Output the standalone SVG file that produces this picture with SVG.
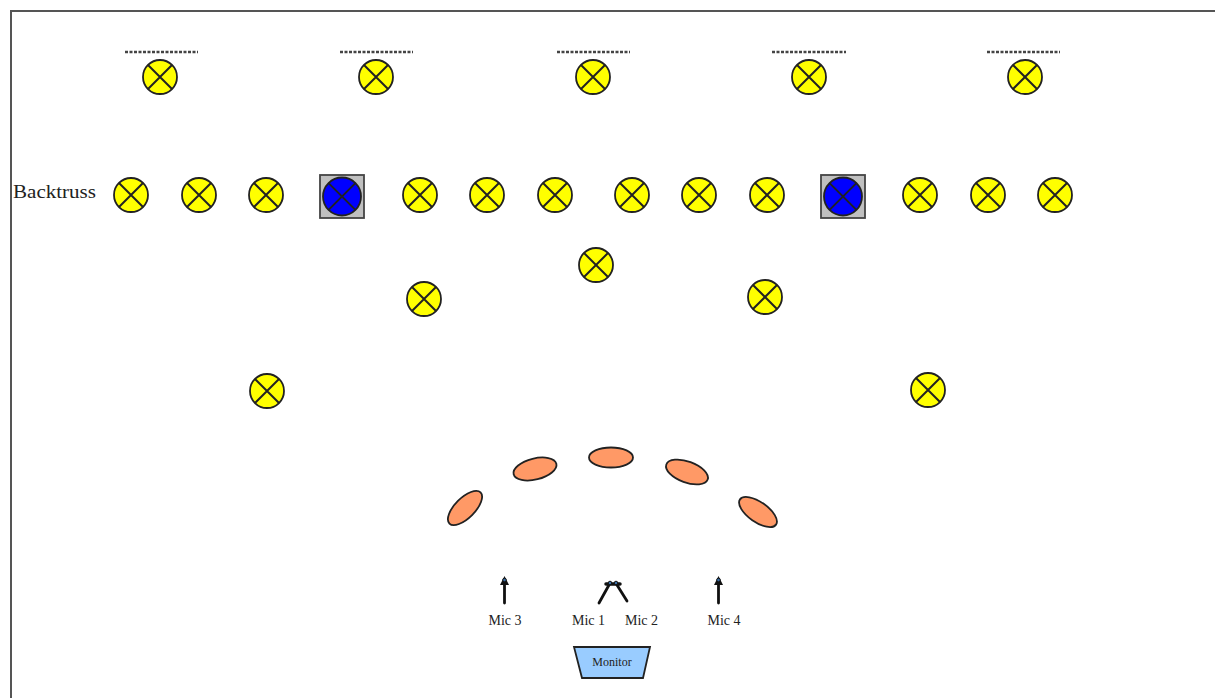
<svg xmlns="http://www.w3.org/2000/svg" xmlns:xlink="http://www.w3.org/1999/xlink" width="1215" height="698" viewBox="0 0 1215 698">
<style>
.frame{fill:none;stroke:#555;stroke-width:2}
.lamp{fill:#ffff00;stroke:#222;stroke-width:1.8}
.x{stroke:#222;stroke-width:2}
.box{fill:#c0c0c0;stroke:#444;stroke-width:1.8}
.blue{fill:#0000ff;stroke:#222;stroke-width:1.8}
.dash{stroke:#444;stroke-width:2.5;stroke-dasharray:3 1.5}
.riser{fill:#ff9966;stroke:#222;stroke-width:1.8}
.stand{stroke:#111;stroke-width:2.8;fill:none;stroke-linecap:round}
.head{fill:#3a6ea5;stroke:#111;stroke-width:1}
.lbl{font-family:"Liberation Serif","Times New Roman",serif;fill:#222}
.mon{fill:#99ccff;stroke:#222;stroke-width:1.8}
</style>
<defs>
<g id="lamp">
<circle class="lamp" cx="0" cy="0" r="17"/>
<path class="x" d="M-12,-12L12,12M12,-12L-12,12"/>
</g>
<g id="bluefix">
<rect class="box" x="-22" y="-21.5" width="44" height="43"/>
<circle class="blue" cx="0" cy="0" r="19"/>
<path class="x" d="M-13.4,-13.4L13.4,13.4M13.4,-13.4L-13.4,13.4"/>
</g>
</defs>
<rect width="1215" height="698" fill="#fff"/>
<path class="frame" d="M11,698V11H1215"/>
<g id="front-truss">
<line class="dash" x1="125" y1="52" x2="198" y2="52"/>
<line class="dash" x1="340" y1="52" x2="413" y2="52"/>
<line class="dash" x1="557" y1="52" x2="630" y2="52"/>
<line class="dash" x1="772" y1="52" x2="846" y2="52"/>
<line class="dash" x1="987" y1="52" x2="1060" y2="52"/>
<use id="f1" xlink:href="#lamp" x="160" y="77"/>
<use id="f2" xlink:href="#lamp" x="376" y="77"/>
<use id="f3" xlink:href="#lamp" x="593" y="77"/>
<use id="f4" xlink:href="#lamp" x="809" y="77"/>
<use id="f5" xlink:href="#lamp" x="1025" y="77"/>
</g>
<g id="backtruss">
<text class="lbl" x="13" y="198" font-size="19" textLength="83" lengthAdjust="spacingAndGlyphs">Backtruss</text>
<use id="b1" xlink:href="#lamp" x="131" y="195"/>
<use id="b2" xlink:href="#lamp" x="199" y="195"/>
<use id="b3" xlink:href="#lamp" x="266" y="195"/>
<use id="b4" xlink:href="#bluefix" x="342" y="196.5"/>
<use id="b5" xlink:href="#lamp" x="420" y="195"/>
<use id="b6" xlink:href="#lamp" x="487" y="195"/>
<use id="b7" xlink:href="#lamp" x="555" y="195"/>
<use id="b8" xlink:href="#lamp" x="632" y="195"/>
<use id="b9" xlink:href="#lamp" x="699" y="195"/>
<use id="b10" xlink:href="#lamp" x="767" y="195"/>
<use id="b11" xlink:href="#bluefix" x="843" y="196.5"/>
<use id="b12" xlink:href="#lamp" x="920" y="195"/>
<use id="b13" xlink:href="#lamp" x="988" y="195"/>
<use id="b14" xlink:href="#lamp" x="1055" y="195"/>
</g>
<g id="floor-lights">
<use id="s1" xlink:href="#lamp" x="596" y="265"/>
<use id="s2" xlink:href="#lamp" x="424" y="299"/>
<use id="s3" xlink:href="#lamp" x="765" y="297"/>
<use id="s4" xlink:href="#lamp" x="267" y="391"/>
<use id="s5" xlink:href="#lamp" x="928" y="390"/>
</g>
<g id="risers">
<ellipse class="riser" cx="465" cy="508" rx="22" ry="10" transform="rotate(-45 465 508)"/>
<ellipse class="riser" cx="535" cy="469" rx="22" ry="10.5" transform="rotate(-14 535 469)"/>
<ellipse class="riser" cx="611" cy="457.5" rx="22" ry="10"/>
<ellipse class="riser" cx="687" cy="472" rx="22" ry="10.5" transform="rotate(20 687 472)"/>
<ellipse class="riser" cx="758" cy="512" rx="22" ry="10" transform="rotate(35 758 512)"/>
</g>
<g id="mic3">
<path class="stand" d="M504.5,603V580"/>
<path d="M500,585L504.5,576L509,585Z" fill="#111"/>
<circle class="head" cx="504.5" cy="580" r="1.8"/>
<text class="lbl" x="505" y="625" font-size="14" text-anchor="middle">Mic 3</text>
</g>
<g id="mic12">
<path class="stand" d="M599,603L609,585M627,601L617,585"/>
<path d="M606,584H620" stroke="#111" stroke-width="3.5" stroke-linecap="round"/>
<circle class="head" cx="610" cy="583" r="1.8"/>
<circle class="head" cx="616" cy="583" r="1.8"/>
<text class="lbl" x="588.5" y="625" font-size="14" text-anchor="middle">Mic 1</text>
<text class="lbl" x="641.5" y="625" font-size="14" text-anchor="middle">Mic 2</text>
</g>
<g id="mic4">
<path class="stand" d="M718.5,603V580"/>
<path d="M714,585L718.5,576L723,585Z" fill="#111"/>
<circle class="head" cx="718.5" cy="580" r="1.8"/>
<text class="lbl" x="724" y="625" font-size="14" text-anchor="middle">Mic 4</text>
</g>
<g id="monitor">
<path class="mon" d="M574,647H650L643,678H582Z"/>
<text class="lbl" x="612" y="666" font-size="12" text-anchor="middle">Monitor</text>
</g>
</svg>
